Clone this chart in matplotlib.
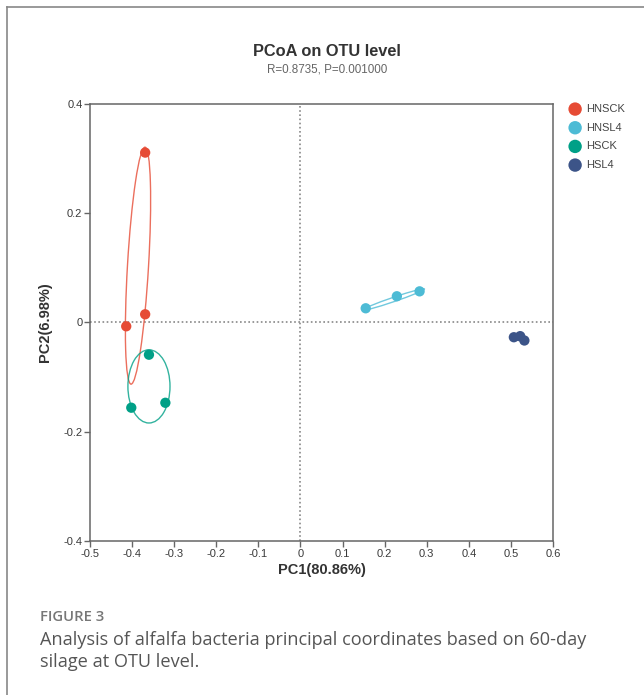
import matplotlib.pyplot as plt
from matplotlib.patches import Ellipse
from matplotlib.lines import Line2D

# groups and sample coordinates
groups = ["HNSCK", "HNSL4", "HSCK", "HSL4"]
colors = ["#E64B35", "#4DBBD5", "#00A087", "#3C5488"]
pc1 = {
    "HNSCK": [-0.369, -0.369, -0.414],
    "HNSL4": [0.155, 0.229, 0.283],
    "HSCK": [-0.360, -0.402, -0.321],
    "HSL4": [0.507, 0.522, 0.532],
}
pc2 = {
    "HNSCK": [0.311, 0.015, -0.007],
    "HNSL4": [0.026, 0.048, 0.057],
    "HSCK": [-0.059, -0.156, -0.147],
    "HSL4": [-0.027, -0.025, -0.033],
}
# confidence ellipses: centre x, centre y, width, height, angle
ell_cx = [-0.386, 0.221, -0.360, 0.521]
ell_cy = [0.104, 0.042, -0.117, -0.028]
ell_w = [0.05, 0.152, 0.10, 0.025]
ell_h = [0.435, 0.008, 0.134, 0.010]
ell_ang = [-4.4, 14.7, 0, 0]

xticks = [-0.5, -0.4, -0.3, -0.2, -0.1, 0, 0.1, 0.2, 0.3, 0.4, 0.5, 0.6]
yticks = [-0.4, -0.2, 0, 0.2, 0.4]

plt.rcParams["font.family"] = ["Liberation Sans", "DejaVu Sans"]

fig = plt.figure(figsize=(6.44, 6.95), dpi=100)
ax = fig.add_axes([0.1398, 0.2216, 0.7189, 0.6288])

ax.axhline(0, color="#888888", lw=1.2, ls=(0, (1, 1.5)), zorder=1)
ax.axvline(0, color="#888888", lw=1.2, ls=(0, (1, 1.5)), zorder=1)

for i, g in enumerate(groups):
    e = Ellipse((ell_cx[i], ell_cy[i]), ell_w[i], ell_h[i], angle=ell_ang[i],
                fill=False, edgecolor=colors[i], lw=1, alpha=0.8, zorder=2)
    ax.add_patch(e)
    ax.scatter(pc1[g], pc2[g], s=55, color=colors[i], edgecolor="none", zorder=3, label=g)

ax.set_xlim(-0.5, 0.6)
ax.set_ylim(-0.4, 0.4)
ax.set_xticks(xticks)
ax.set_xticklabels([("%g" % t) for t in xticks])
ax.set_yticks(yticks)
ax.set_yticklabels([("%g" % t) for t in yticks])
for sp in ax.spines.values():
    sp.set_color("#666666")
    sp.set_linewidth(1.1)
ax.tick_params(direction="out", length=4, width=1, color="#666666",
               labelsize=8, labelcolor="#3a3a3a", pad=1.5)

ax.set_xlabel("PC1(80.86%)", fontsize=10.5, fontweight="bold", color="#333333", labelpad=3)
ax.set_ylabel("PC2(6.98%)", fontsize=10.5, fontweight="bold", color="#333333", labelpad=8)

fig.text(0.508, 1 - 52 / 695, "PCoA on OTU level", ha="center", va="center",
         fontsize=11.8, fontweight="bold", color="#333333")
fig.text(0.508, 1 - 70 / 695, "R=0.8735, P=0.001000", ha="center", va="center",
         fontsize=8.4, color="#666666")

leg = ax.legend(loc="upper left", bbox_to_anchor=(564 / 644, 1 - 104 / 695),
                bbox_transform=fig.transFigure, frameon=False,
                fontsize=8, handletextpad=0.0, labelspacing=0.78,
                borderaxespad=0, borderpad=0, markerscale=1.3)
for t in leg.get_texts():
    t.set_color("#444444")

# left and top border of the figure panel
fig.add_artist(Line2D([7 / 644, 7 / 644], [0, 1 - 7 / 695], transform=fig.transFigure,
                      color="#888888", lw=1.2))
fig.add_artist(Line2D([7 / 644, 1], [1 - 7 / 695, 1 - 7 / 695], transform=fig.transFigure,
                      color="#888888", lw=1.2))

cap_font = ["Open Sans", "DejaVu Sans"]
fig.text(40 / 644, 1 - 617 / 695, "FIGURE 3", ha="left", va="center",
         fontsize=10.7, fontweight="semibold", color="#777777", family=cap_font)
fig.text(40 / 644, 1 - 640 / 695,
         "Analysis of alfalfa bacteria principal coordinates based on 60-day",
         ha="left", va="center", fontsize=13.1, color="#555555", family=cap_font)
fig.text(40 / 644, 1 - 662 / 695, "silage at OTU level.",
         ha="left", va="center", fontsize=13.1, color="#555555", family=cap_font)

fig.savefig("out.png", dpi=100)
